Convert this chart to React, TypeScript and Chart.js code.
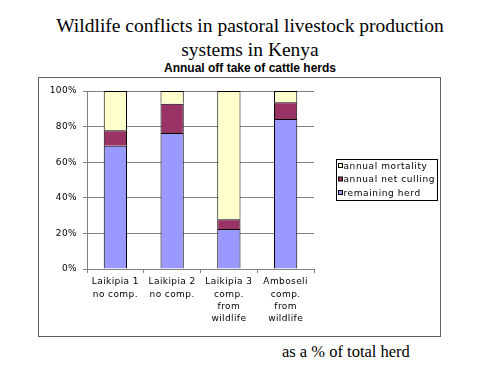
import React, { useEffect, useRef } from "react";
import { Chart, registerables } from "chart.js";

Chart.register(...registerables);

const categories: string[][] = [
  ["Laikipia 1", "no comp."],
  ["Laikipia 2", "no comp."],
  ["Laikipia 3", "comp.", "from", "wildlife"],
  ["Amboseli", "comp.", "from", "wildlife"],
];
const remainingHerd = [69.3, 76.4, 22.5, 84.3];
const annualNetCulling = [8.6, 16.5, 5.4, 9.4];
const annualMortality = [22.1, 7.1, 72.1, 6.3];
const yTicks = [0, 20, 40, 60, 80, 100];

const FONT = "'DejaVu Sans', Verdana, sans-serif";

const spacingPlugin = {
  id: "spacing",
  beforeDraw(chart: any) {
    (chart.ctx as any).letterSpacing = "0.4px";
  },
};

const legendPlugin = {
  id: "boxLegend",
  afterDraw(chart: any) {
    const ctx = chart.ctx as CanvasRenderingContext2D;
    const ds = chart.data.datasets.slice().reverse();
    const bx = 297.5, by = 81.5, bw = 101, bh = 41;
    ctx.save();
    (ctx as any).letterSpacing = "0.6px";
    ctx.strokeStyle = "#000";
    ctx.lineWidth = 1;
    ctx.fillStyle = "#fff";
    ctx.fillRect(bx, by, bw, bh);
    ctx.strokeRect(bx, by, bw, bh);
    ctx.font = `9px ${FONT}`;
    ctx.textBaseline = "middle";
    ds.forEach((d: any, i: number) => {
      const cy = 88 + i * 13.5;
      ctx.fillStyle = d.backgroundColor;
      ctx.fillRect(299.5, cy - 2.5, 4, 4);
      ctx.strokeStyle = "#000";
      ctx.strokeRect(299.5, cy - 2.5, 4, 4);
      ctx.fillStyle = "#000";
      ctx.fillText(d.label, 304.5, cy + 0.5);
    });
    ctx.restore();
  },
};

function ChartBox() {
  const ref = useRef<HTMLCanvasElement>(null);
  useEffect(() => {
    if (!ref.current) return;
    const chart = new Chart(ref.current, {
      type: "bar",
      data: {
        labels: categories,
        datasets: [
          { label: "remaining herd", data: remainingHerd, backgroundColor: "#9999FF", borderColor: "#000", borderWidth: 1 },
          { label: "annual net culling", data: annualNetCulling, backgroundColor: "#993366", borderColor: "#000", borderWidth: 1 },
          { label: "annual mortality", data: annualMortality, backgroundColor: "#FFFFCC", borderColor: "#000", borderWidth: 1 },
        ],
      },
      options: {
        animation: false,
        responsive: false,
        maintainAspectRatio: false,
        devicePixelRatio: 1,
        layout: { padding: { top: 13, right: 126, left: 0, bottom: 0 } },
        datasets: { bar: { barPercentage: 0.41, categoryPercentage: 1 } },
        plugins: { legend: { display: false }, tooltip: { enabled: false }, title: { display: false } },
        scales: {
          x: {
            stacked: true,
            grid: { offset: true, drawOnChartArea: false, drawTicks: true, tickLength: 4, color: "#808080" },
            border: { color: "#808080" },
            ticks: { color: "#000", font: { family: FONT, size: 9, lineHeight: 1.35 }, padding: 3, maxRotation: 0, autoSkip: false },
            afterFit: (s: any) => { s.height = 67; },
          },
          y: {
            stacked: true,
            min: 0,
            max: 100,
            afterBuildTicks: (s: any) => { s.ticks = yTicks.map((v) => ({ value: v })); },
            grid: { color: "#808080", tickLength: 4 },
            border: { color: "#808080" },
            ticks: { color: "#000", font: { family: FONT, size: 9 }, padding: 6, callback: (v: any) => v + "%" },
            afterFit: (s: any) => { s.width = 48; },
          },
        },
      },
      plugins: [spacingPlugin, legendPlugin],
    });
    return () => chart.destroy();
  }, []);
  return <canvas ref={ref} width={401} height={258} style={{ display: "block", width: 401, height: 258 }} />;
}

export default function App() {
  return (
    <div style={{ position: "absolute", left: 0, top: 0, width: 500, height: 375, background: "#fff", overflow: "hidden" }}>
      <div style={{ position: "absolute", left: 0, top: 14, width: 500, textAlign: "center", fontFamily: "'Liberation Serif', 'Times New Roman', serif", fontSize: 19.5, lineHeight: "24px", color: "#000" }}>
        Wildlife conflicts in pastoral livestock production
        <br />
        systems in Kenya
      </div>
      <div style={{ position: "absolute", left: 0, top: 61, width: 500, textAlign: "center", fontFamily: "'Liberation Sans', Arial, sans-serif", fontWeight: "bold", fontSize: 12, lineHeight: "14px", color: "#000" }}>
        Annual off take of cattle herds
      </div>
      <div style={{ position: "absolute", left: 38, top: 77, width: 403, height: 260, boxSizing: "border-box", border: "1px solid #606060" }}>
        <ChartBox />
      </div>
      <div style={{ position: "absolute", left: 282, top: 342, fontFamily: "'Liberation Serif', 'Times New Roman', serif", fontSize: 16.5, lineHeight: "20px", color: "#000", whiteSpace: "nowrap" }}>
        as a % of total herd
      </div>
    </div>
  );
}
